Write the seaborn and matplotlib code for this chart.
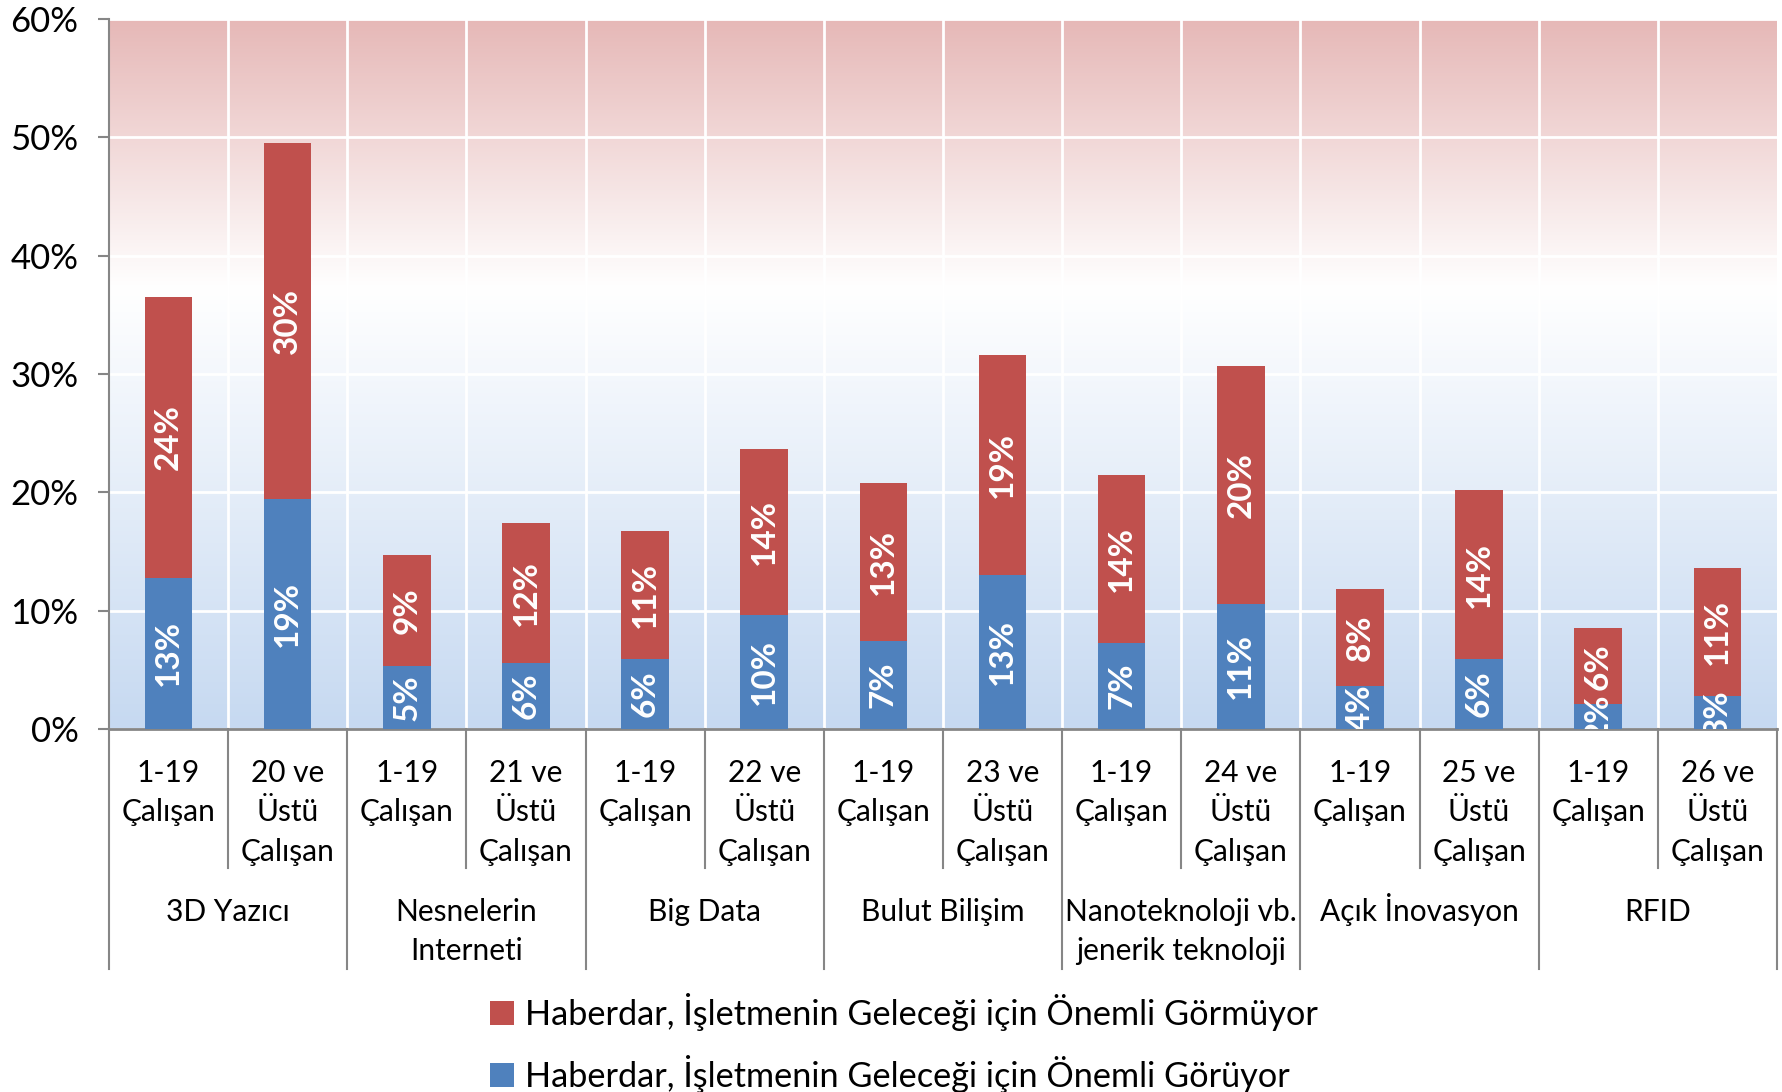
import numpy as np
import pandas as pd
import seaborn as sns
import matplotlib.pyplot as plt
from matplotlib.colors import LinearSegmentedColormap
from matplotlib.transforms import blended_transform_factory

plt.rcParams['font.family'] = ['Lato', 'DejaVu Sans']

# veriler (yüzde)
gruplar = ["3D Yazıcı", "Nesnelerin\nInterneti", "Big Data", "Bulut Bilişim",
           "Nanoteknoloji vb.\njenerik teknoloji", "Açık İnovasyon", "RFID"]
alt_gruplar = ["1-19\nÇalışan", "20 ve\nÜstü\nÇalışan",
               "1-19\nÇalışan", "21 ve\nÜstü\nÇalışan",
               "1-19\nÇalışan", "22 ve\nÜstü\nÇalışan",
               "1-19\nÇalışan", "23 ve\nÜstü\nÇalışan",
               "1-19\nÇalışan", "24 ve\nÜstü\nÇalışan",
               "1-19\nÇalışan", "25 ve\nÜstü\nÇalışan",
               "1-19\nÇalışan", "26 ve\nÜstü\nÇalışan"]
onemli_goruyor = [12.8, 19.4, 5.3, 5.6, 5.9, 9.6, 7.4, 13.0, 7.3, 10.6, 3.6, 5.9, 2.1, 2.8]
onemli_gormuyor = [23.7, 30.1, 9.4, 11.8, 10.8, 14.1, 13.4, 18.6, 14.2, 20.1, 8.2, 14.3, 6.4, 10.8]
etiketler = ["Haberdar, İşletmenin Geleceği için Önemli Görmüyor",
             "Haberdar, İşletmenin Geleceği için Önemli Görüyor"]

KIRMIZI = "#C0504D"
MAVI = "#4F81BD"
GRI = "#868686"

df = pd.DataFrame({"sira": range(len(alt_gruplar)),
                   "goruyor": onemli_goruyor,
                   "gormuyor": onemli_gormuyor})
df["toplam"] = df["goruyor"] + df["gormuyor"]

fig, ax = plt.subplots(figsize=(17.83, 10.92), dpi=100)
fig.subplots_adjust(left=0.0611, right=0.9966, top=0.9826, bottom=0.3324)

# arka plan gradyanı
cmap = LinearSegmentedColormap.from_list(
    "bg", [(0.0, (198/255, 217/255, 241/255)), (0.62, (1, 1, 1)), (1.0, (230/255, 184/255, 183/255))])
grad = np.linspace(0, 1, 256).reshape(-1, 1)
ax.imshow(grad, extent=[-0.5, 13.5, 0, 60], aspect="auto", origin="lower", cmap=cmap, zorder=0)

sns.barplot(data=df, x="sira", y="toplam", color=KIRMIZI, saturation=1, width=0.4,
            ax=ax, zorder=3, label=etiketler[0])
sns.barplot(data=df, x="sira", y="goruyor", color=MAVI, saturation=1, width=0.4,
            ax=ax, zorder=4, label=etiketler[1])
if ax.get_legend() is not None:
    ax.get_legend().remove()

# değer etiketleri
for i, row in df.iterrows():
    ax.text(i, row.goruyor / 2, f"{row.goruyor:.0f}%", rotation=90, ha="center", va="center",
            color="white", fontsize=24, fontweight="bold", zorder=5, clip_on=True)
    ax.text(i, row.goruyor + row.gormuyor / 2, f"{row.gormuyor:.0f}%", rotation=90, ha="center",
            va="center", color="white", fontsize=24, fontweight="bold", zorder=5, clip_on=True)

ax.set_xlim(-0.5, 13.5)
ax.set_ylim(0, 60)
ax.set_yticks(range(0, 61, 10))
ax.set_yticklabels([f"{v}%" for v in range(0, 61, 10)], fontsize=25)
ax.set_xticks([])
ax.set_xticks(np.arange(0.5, 13, 1), minor=True)
ax.tick_params(axis="x", which="minor", length=0)
ax.tick_params(axis="y", length=8, width=1.5, color=GRI, pad=14)
ax.grid(True, which="minor", axis="x", color="white", lw=2)
ax.grid(True, which="major", axis="y", color="white", lw=2)
ax.set_axisbelow(True)
ax.set_xlabel("")
ax.set_ylabel("")
for s in ["top", "right"]:
    ax.spines[s].set_visible(False)
ax.spines["left"].set_color(GRI)
ax.spines["left"].set_linewidth(1.5)
ax.spines["bottom"].set_color(GRI)
ax.spines["bottom"].set_linewidth(2)

# çok seviyeli x ekseni
tr = blended_transform_factory(ax.transData, ax.transAxes)
for b in np.arange(-0.5, 14, 1):
    alt = -0.338 if (b + 0.5) % 2 == 0 else -0.196
    ax.plot([b, b], [0, alt], color=GRI, lw=1.5, transform=tr, clip_on=False)
satir = 0.0556
for i, lbl in enumerate(alt_gruplar):
    for k, parca in enumerate(lbl.split("\n")):
        ax.text(i, -0.0746 - k * satir, parca, transform=tr, ha="center", va="baseline",
                fontsize=21.5)
for g, lbl in enumerate(gruplar):
    for k, parca in enumerate(lbl.split("\n")):
        ax.text(2 * g + 0.5, -0.270 - k * satir, parca, transform=tr, ha="center",
                va="baseline", fontsize=21.5)

handles = [ax.containers[0], ax.containers[1]]
fig.legend(handles, etiketler, loc="upper left", bbox_to_anchor=(0.275, 0.091), frameon=False,
           fontsize=24.7, handlelength=0.7, handleheight=0.7, handletextpad=0.3,
           labelspacing=0.72, borderpad=0, borderaxespad=0)

fig.savefig("out.png", dpi=100)
